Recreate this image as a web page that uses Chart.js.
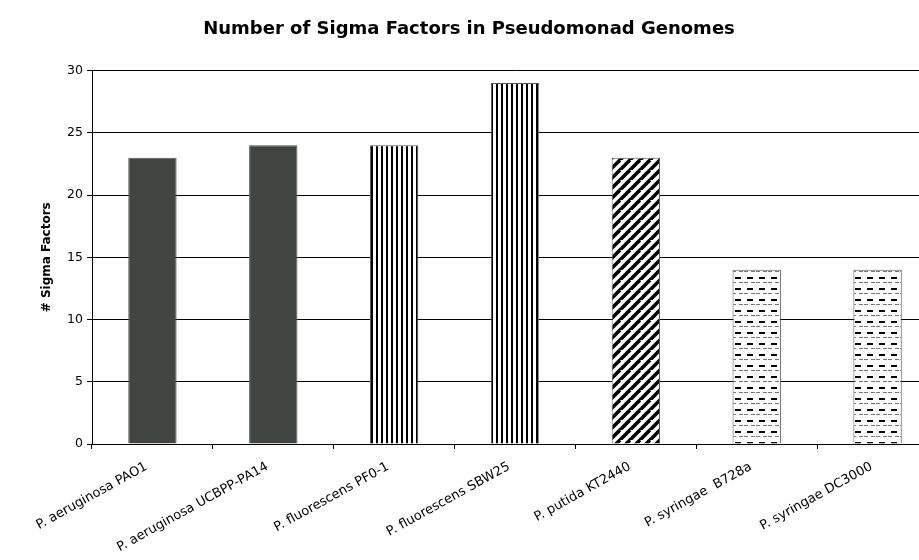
<!DOCTYPE html>
<html><head><meta charset="utf-8">
<script src="https://cdn.jsdelivr.net/npm/chart.js@4/dist/chart.umd.min.js"></script>
<style>html,body{margin:0;padding:0;overflow:hidden;background:#fff}#wrap{width:938px;height:560px}</style>
</head><body><div id="wrap"><canvas id="c" width="938" height="560"></canvas></div>
<script>
const categories = ["P. aeruginosa PAO1","P. aeruginosa UCBPP-PA14","P. fluorescens PF0-1","P. fluorescens SBW25","P. putida KT2440","P. syringae  B728a","P. syringae DC3000"];
const sigmaFactors = [23,24,24,29,23,14,14];
const patternKinds = ["solid","solid","vertical","vertical","diagonal","dashed","dashed"];
const yTicks = [0,5,10,15,20,25,30];

function makePattern(kind){
  const ctx0 = document.createElement('canvas').getContext('2d');
  if(kind==='solid') return '#404541';
  const c = document.createElement('canvas');
  const g = c.getContext('2d');
  if(kind==='vertical'){
    c.width=5;c.height=4;
    g.fillStyle='#fff';g.fillRect(0,0,5,4);
    g.fillStyle='#000';g.fillRect(1,0,2,4);
  } else if(kind==='diagonal'){
    c.width=10;c.height=10;
    g.fillStyle='#fff';g.fillRect(0,0,10,10);
    g.strokeStyle='#000';g.lineWidth=3.6;
    for(let k=-10;k<=20;k+=10){g.beginPath();g.moveTo(k-10,20);g.lineTo(k+10,0);g.stroke();}
  } else if(kind==='dashed'){
    c.width=12;c.height=11;
    g.fillStyle='#fff';g.fillRect(0,0,12,11);
    g.fillStyle='#000';g.fillRect(3,2,6,2);
    g.fillStyle='#777';g.fillRect(0,7,4,1);g.fillRect(7,7,4,1);
  }
  return ctx0.createPattern(c,'repeat');
}
const fills = patternKinds.map(makePattern);

new Chart(document.getElementById('c'),{
  type:'bar',
  data:{labels:categories,datasets:[{data:sigmaFactors,backgroundColor:fills,borderColor:'#555',borderWidth:1,barPercentage:0.8,categoryPercentage:0.5}]},
  options:{
    responsive:false,animation:false,
    layout:{padding:{left:0,right:0,top:0,bottom:0}},
    plugins:{legend:{display:false},tooltip:{enabled:false},
      title:{display:true,text:'Number of Sigma Factors in Pseudomonad Genomes',color:'#000',font:{family:'DejaVu Sans',size:18,weight:'bold'},padding:{top:19,bottom:30}}},
    scales:{
      x:{offset:true,
        grid:{display:true,drawOnChartArea:false,drawTicks:true,tickLength:5,color:'#000',offset:true},
        border:{display:true,color:'#000',width:1},
        ticks:{color:'#000',font:{family:'DejaVu Sans',size:13},minRotation:29,maxRotation:29,padding:10,labelOffset:-6},
        afterFit:s=>{s.height=116;}
      },
      y:{min:0,max:30,
        afterBuildTicks:s=>{s.ticks=yTicks.map(v=>({value:v}));},
        grid:{color:'#000',tickLength:5,lineWidth:1},
        border:{display:true,color:'#000',width:1},
        ticks:{color:'#000',font:{family:'DejaVu Sans',size:12.5},padding:4},
        title:{display:true,text:'# Sigma Factors',color:'#000',font:{family:'DejaVu Sans',size:12,weight:'bold'},padding:{top:40,bottom:4}},
        afterFit:s=>{s.width=92;}
      }
    }
  }
});
</script></body></html>
